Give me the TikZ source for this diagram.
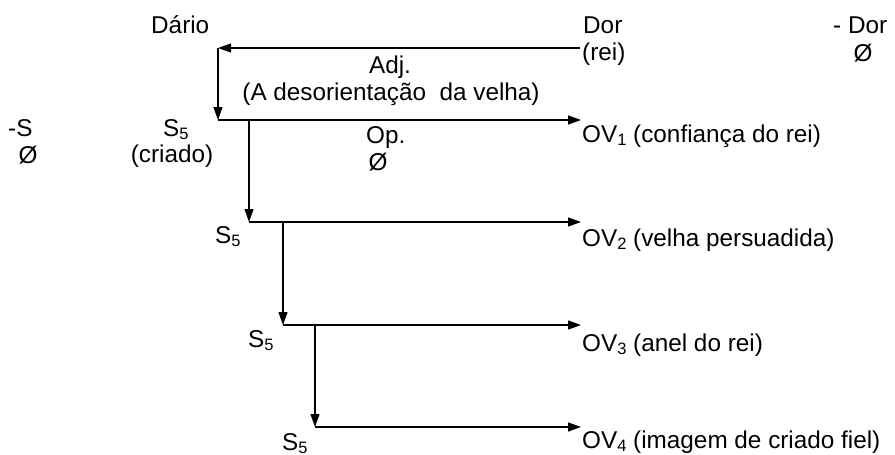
\documentclass[tikz,border=0pt]{standalone}
\usepackage{fontspec}
\setmainfont{Liberation Sans}
\usetikzlibrary{arrows.meta}
\newcommand{\subs}[1]{\raisebox{-3pt}{\fontsize{16.5}{16.5}\selectfont #1}}
\tikzset{
  lbl/.style={inner sep=0pt, anchor=base west, font=\fontsize{24.3}{28}\selectfont},
  clbl/.style={lbl, anchor=base},
  arr/.style={line width=1.25pt, -{Triangle[length=13pt,width=9pt]}},
}
\begin{document}
\begin{tikzpicture}[x=1pt,y=-1pt]
\useasboundingbox (0,0) rectangle (895,455);
% texts
\node[lbl] (dario) at (151,34) {Dário};
\node[lbl] (dor) at (583,34) {Dor};
\node[lbl] (rei) at (582,60) {(rei)};
\node[lbl] (mdor) at (833,34) {- Dor};
\node[clbl] (empdor) at (863,61) {Ø};
\node[clbl] (adj) at (390,73) {Adj.};
\node[clbl] (adjtxt) at (391,100) {(A desorientação~ da velha)};
\node[lbl] (op) at (366,143) {Op.};
\node[clbl] (empop) at (378,170) {Ø};
\node[lbl] (ms) at (8,136) {-S};
\node[clbl] (empms) at (28,163) {Ø};
\node[lbl] (s1) at (163,136) {S\subs{5}};
\node[clbl] (criado) at (172,162) {(criado)};
\node[lbl] (s2) at (215,243) {S\subs{5}};
\node[lbl] (s3) at (248,347) {S\subs{5}};
\node[lbl] (s4) at (282,450) {S\subs{5}};
\node[lbl] (ov1) at (582,142) {OV\subs{1} (confiança do rei)};
\node[lbl] (ov2) at (582,246) {OV\subs{2} (velha persuadida)};
\node[lbl] (ov3) at (582,351) {OV\subs{3} (anel do rei)};
\node[lbl] (ov4) at (582,448) {OV\subs{4} (imagem de criado fiel)};
% corners
\coordinate (r0) at (580,48);
\coordinate (a1) at (218,48);
\coordinate (a2) at (218,120);
\coordinate (t1) at (581,120);
\coordinate (b0) at (249,120);
\coordinate (b1) at (249,222);
\coordinate (t2) at (581,222);
\coordinate (c0) at (283,222);
\coordinate (c1) at (283,325);
\coordinate (t3) at (581,325);
\coordinate (d0) at (315,325);
\coordinate (d1) at (315,427);
\coordinate (t4) at (581,427);
% connectors
\draw[arr] (r0) -- (a1);
\draw[arr] (a1) -- (a2);
\draw[arr] (a2) -- (t1);
\draw[arr] (b0) -- (b1);
\draw[arr] (b1) -- (t2);
\draw[arr] (c0) -- (c1);
\draw[arr] (c1) -- (t3);
\draw[arr] (d0) -- (d1);
\draw[arr] (d1) -- (t4);
\end{tikzpicture}
\end{document}
